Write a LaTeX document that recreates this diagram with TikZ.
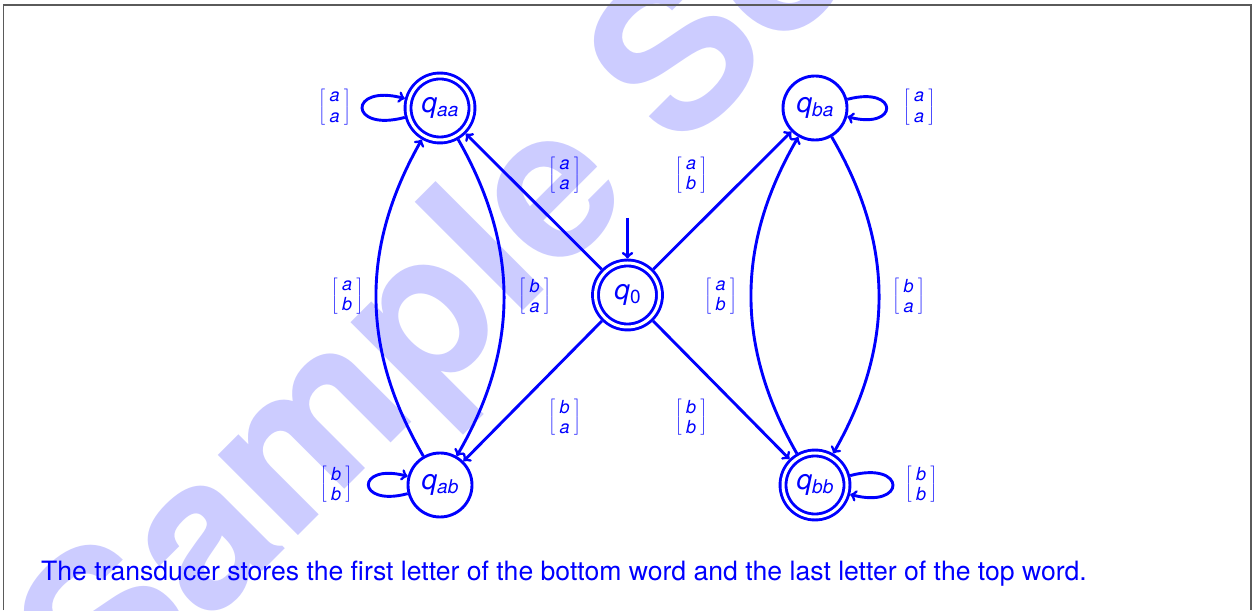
\documentclass[tikz,border=0pt]{standalone}
\usepackage{fontspec}
\setmainfont{TeX Gyre Heros}
\usetikzlibrary{arrows}
\definecolor{wmcol}{RGB}{204,204,255}
\definecolor{framegray}{RGB}{90,90,90}
\newcommand\stname[1]{{\fontsize{28}{30}\selectfont\itshape q}\raisebox{-4pt}{\fontsize{19}{20}\selectfont #1}}
\newcommand\tlab[2]{$\delimiterfactor=1000\delimitershortfall=0pt\left[\vrule height 18.5pt depth 13.5pt width 0pt\vcenter{\hbox{\kern4.5pt\vbox{\fontsize{18}{20.5}\selectfont\itshape\halign{\hfil##\hfil\cr #1\cr #2\cr}}\kern4.5pt}}\right]$}
\tikzset{
  stnode/.style={circle, draw=blue, line width=2.9pt, minimum size=64pt, inner sep=0pt, text=blue, outer sep=1.45pt},
  accept/.style={double=white, double distance=3pt, outer sep=4.4pt},
  trans/.style={->, draw=blue, line width=2.9pt},
  lab/.style={text=blue, inner sep=0pt},
}
\begin{document}
\begin{tikzpicture}[x=1pt,y=1pt]
\useasboundingbox (0,0) rectangle (1252,610);
\begin{scope}
\clip (0,0) rectangle (1252,610);
\node[text=wmcol, font=\bfseries\fontsize{210}{210}\selectfont, rotate=45, anchor=base west, inner sep=0pt] (wmark) at (108,-116) {Sample Solution};
\end{scope}
\draw[framegray, line width=1.5pt] (3.5,0) -- (3.5,605) -- (1251,605) -- (1251,0);

\node[stnode, accept] (q0) at (627.5,315) {\stname{0}};
\node[stnode, accept] (qaa) at (440,502) {\stname{\itshape aa}};
\node[stnode] (qba) at (815,502) {\stname{\itshape ba}};
\node[stnode] (qab) at (440,125) {\stname{\itshape ab}};
\node[stnode, accept] (qbb) at (815,125) {\stname{\itshape bb}};
\coordinate (init) at (627.5,392);

\draw[trans] (init) -- (q0);
\draw[trans] (q0) -- (qaa);
\draw[trans] (q0) -- (qba);
\draw[trans] (q0) -- (qab);
\draw[trans] (q0) -- (qbb);
\draw[trans] (qab) to[bend left=30] (qaa);
\draw[trans] (qaa) to[bend left=30] (qab);
\draw[trans] (qbb) to[bend left=30] (qba);
\draw[trans] (qba) to[bend left=30] (qbb);
\draw[trans] (qaa) to[loop left] ();
\draw[trans] (qba) to[loop right] ();
\draw[trans] (qab) to[loop left] ();
\draw[trans] (qbb) to[loop right] ();

\node[lab] (laaloop) at (334.5,502.5) {\tlab{a}{a}};
\node[lab] (lbaloop) at (919,502.5) {\tlab{a}{a}};
\node[lab] (labloop) at (336,126) {\tlab{b}{b}};
\node[lab] (lbbloop) at (921,126) {\tlab{b}{b}};
\node[lab] (l0aa) at (564.5,435) {\tlab{a}{a}};
\node[lab] (l0ba) at (691,435) {\tlab{a}{b}};
\node[lab] (l0ab) at (564.5,193) {\tlab{b}{a}};
\node[lab] (l0bb) at (691,193) {\tlab{b}{b}};
\node[lab] (labaa) at (347,314) {\tlab{a}{b}};
\node[lab] (laaab) at (534.5,314) {\tlab{b}{a}};
\node[lab] (lbbba) at (720.5,314) {\tlab{a}{b}};
\node[lab] (lbabb) at (908.5,314) {\tlab{b}{a}};

\node[text=blue, anchor=base west, inner sep=0pt, font=\fontsize{26.6}{30}\selectfont] (caption) at (41,30) {The transducer stores the first letter of the bottom word and the last letter of the top word.};
\end{tikzpicture}
\end{document}
